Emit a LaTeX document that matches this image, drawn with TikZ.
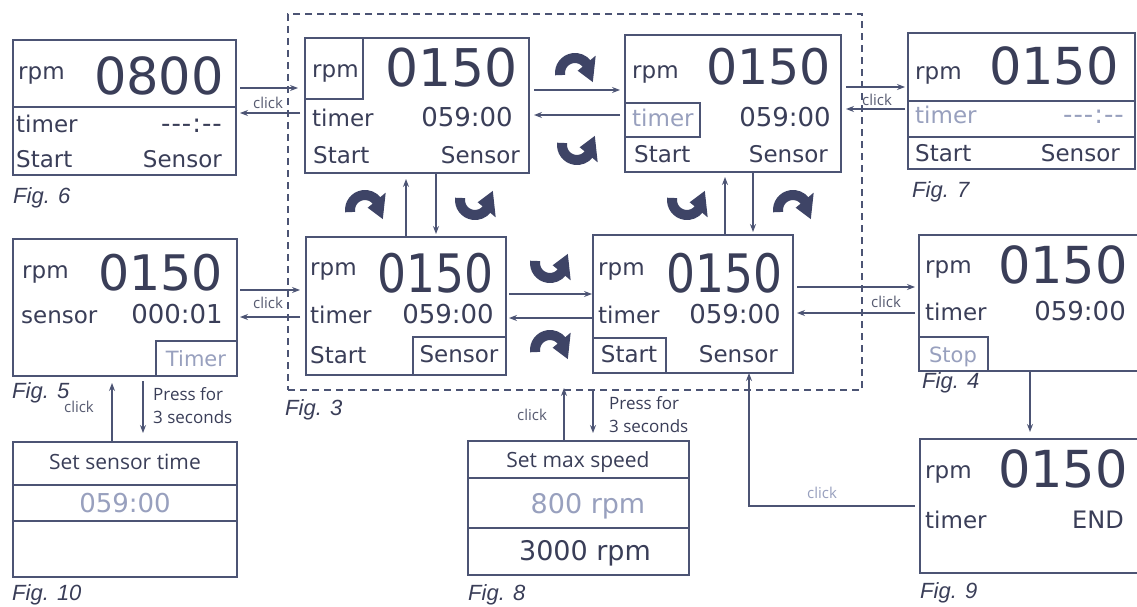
\documentclass[tikz,border=0pt]{standalone}
\usepackage{fontspec}
\setmainfont{DejaVu Sans}
\newfontfamily\capfont{Liberation Sans}
\newfontfamily\smallfont{Open Sans}
\usetikzlibrary{arrows.meta}
\definecolor{ink}{HTML}{3A3E58}
\definecolor{lineclr}{HTML}{4C5474}
\definecolor{lightclr}{HTML}{98A0BE}
\definecolor{iconclr}{HTML}{3E4466}
\newcommand{\dashes}{{-}\kern1pt{-}\kern1pt{-}\kern1pt:\kern1pt{-}\kern1pt{-}}
\begin{document}
\begin{tikzpicture}[x=1pt,y=-1pt,
  screen/.style={draw=lineclr, line width=1.4pt, rectangle, inner sep=0pt, outer sep=0pt, anchor=north west},
  sline/.style={draw=lineclr, line width=1.4pt},
  big/.style={font=\fontsize{#1}{#1}\selectfont, text=ink, inner sep=0pt, anchor=base east},
  big/.default=52,
  lbl/.style={font=\fontsize{23}{23}\selectfont, text=ink, inner sep=0pt, anchor=base west},
  lblr/.style={font=\fontsize{23}{23}\selectfont, text=ink, inner sep=0pt, anchor=base east},
  num/.style={font=\fontsize{26}{26}\selectfont, text=ink, inner sep=0pt, anchor=base east},
  ctr/.style={inner sep=0pt, anchor=base},
  lt/.style={text=lightclr},
  figcap/.style={font=\capfont\itshape\fontsize{22}{22}\selectfont, text=ink, inner sep=0pt, anchor=base west},
  note/.style={font=\smallfont\fontsize{15}{15}\selectfont, text=ink!85, inner sep=0pt},
  press/.style={font=\smallfont\fontsize{17}{23}\selectfont, text=ink, inner sep=0pt, anchor=base west, align=left},
  setf/.style={font=\smallfont\fontsize{21}{21}\selectfont, text=ink, inner sep=0pt, anchor=base},
  conn/.style={draw=lineclr, line width=1.1pt, -{Stealth[length=8pt,width=6pt]}},
  iconline/.style={draw=iconclr, line width=10pt},
  frame3/.style={draw=lineclr, line width=1.4pt, dash pattern=on 7pt off 5pt, rectangle, inner sep=0pt, outer sep=0pt, anchor=north west},
  archicon/.pic={
    \draw[iconline] (172:15) arc[start angle=172, end angle=322, radius=15];
    \fill[iconclr] (320:27) -- (320:3.5) -- (27:20) -- cycle;
  },
  cupicon/.pic={
    \draw[iconline] (188:15) arc[start angle=188, end angle=38, radius=15];
    \fill[iconclr] (40:27) -- (40:3.5) -- (-27:20) -- cycle;
  },
]
\useasboundingbox (0,0) rectangle (1137,607);
\fill[white] (0,0) rectangle (1137,607);

% dashed frame of Fig. 3
\node[frame3, minimum width=574pt, minimum height=376pt] (fr) at (288,14) {};

% ---------- Fig. 6
\node[screen, minimum width=223pt, minimum height=135pt] (f6) at (13,40) {};
\draw[sline] ([yshift=-67pt]f6.north west) -- ([yshift=-67pt]f6.north east);
\node[lbl] (f6a) at (18,80) {rpm};
\node[big=51] (f6b) at (224,95) {0800};
\node[lbl] (f6c) at (16,132) {timer};
\node[num] (f6d) at (222,132) {\dashes};
\node[lbl] (f6e) at (16,167) {Start};
\node[lblr] (f6f) at (222,167) {Sensor};
\node[figcap] (c6) at (13,203) {Fig. 6};

% ---------- Fig. 3 A (top left)
\node[screen, minimum width=224pt, minimum height=135pt] (A) at (305,38) {};
\node[screen, minimum width=58pt, minimum height=61pt] (Arpm) at (305,38) {};
\node[lbl] (Aa) at (312,78) {rpm};
\node[big=52] (Ab) at (518,87) {0150};
\node[lbl] (Ac) at (312,127) {timer};
\node[num] (Ad) at (513,127) {059:00};
\node[lbl] (Ae) at (313,163) {Start};
\node[lblr] (Af) at (520,163) {Sensor};

% ---------- Fig. 3 B (top right)
\node[screen, minimum width=216pt, minimum height=137pt] (B) at (625,35) {};
\node[screen, minimum width=75pt, minimum height=34pt] (Btim) at (625,103) {};
\node[lbl] (Ba) at (632,79) {rpm};
\node[big=49] (Bb) at (831,85) {0150};
\node[lbl, lt] (Bc) at (632,127) {timer};
\node[num] (Bd) at (831,127) {059:00};
\node[lbl] (Be) at (634,162) {Start};
\node[lblr] (Bf) at (828,162) {Sensor};

% ---------- Fig. 7
\node[screen, minimum width=227pt, minimum height=136pt] (f7) at (908,33) {};
\draw[sline] ([yshift=-68pt]f7.north west) -- ([yshift=-68pt]f7.north east);
\draw[sline] ([yshift=-104pt]f7.north west) -- ([yshift=-104pt]f7.north east);
\node[lbl] (f7a) at (915,80) {rpm};
\node[big=51] (f7b) at (1119,85) {0150};
\node[lbl, lt] (f7c) at (915,124) {timer};
\node[num, lt] (f7d) at (1124,124) {\dashes};
\node[lbl] (f7e) at (915,161) {Start};
\node[lblr] (f7f) at (1120,161) {Sensor};
\node[figcap] (c7) at (912,197) {Fig. 7};

% ---------- Fig. 5
\node[screen, minimum width=224pt, minimum height=137pt] (f5) at (13,239) {};
\node[screen, minimum width=81pt, minimum height=35pt] (f5tim) at (156,341) {};
\node[lbl] (f5a) at (22,278) {rpm};
\node[big=49] (f5b) at (223,290) {0150};
\node[lbl] (f5c) at (21,323) {sensor};
\node[num] (f5d) at (223,323) {000:01};
\node[lbl, lt, ctr, font=\fontsize{21}{21}\selectfont] (f5e) at (196,366) {Timer};
\node[figcap] (c5) at (12,398) {Fig. 5};

% ---------- Fig. 3 C (bottom left)
\node[screen, minimum width=200pt, minimum height=138pt] (C) at (306,237) {};
\node[screen, minimum width=93pt, minimum height=38pt] (Csen) at (413,337) {};
\node[lbl] (Ca) at (310,275) {rpm};
\node[big=53, xscale=0.86] (Cb) at (494,292) {0150};
\node[lbl] (Cc) at (310,323) {timer};
\node[num] (Cd) at (494,323) {059:00};
\node[lbl] (Ce) at (310,363) {Start};
\node[lbl, ctr] (Cf) at (459,362) {Sensor};
\node[figcap] (c3) at (285,415) {Fig. 3};

% ---------- Fig. 3 D (bottom right)
\node[screen, minimum width=200pt, minimum height=138pt] (D) at (593,235) {};
\node[screen, minimum width=73pt, minimum height=35pt] (Dst) at (593,338) {};
\node[lbl] (Da) at (598,275) {rpm};
\node[big=53, xscale=0.86] (Db) at (783,292) {0150};
\node[lbl] (Dc) at (598,323) {timer};
\node[num] (Dd) at (781,323) {059:00};
\node[lbl, ctr] (De) at (629,362) {Start};
\node[lblr] (Df) at (778,362) {Sensor};

% ---------- Fig. 4
\node[screen, minimum width=240pt, minimum height=136pt] (f4) at (919,235) {};
\node[screen, minimum width=69pt, minimum height=34pt] (f4st) at (919,337) {};
\node[lbl] (f4a) at (925,273) {rpm};
\node[big=51] (f4b) at (1128,283) {0150};
\node[lbl] (f4c) at (925,320) {timer};
\node[num] (f4d) at (1126,320) {059:00};
\node[lbl, lt, ctr, font=\fontsize{21}{21}\selectfont] (f4e) at (953,362) {Stop};
\node[figcap] (c4) at (922,388) {Fig. 4};

% ---------- Fig. 10
\node[screen, minimum width=224pt, minimum height=135pt] (f10) at (13,442) {};
\draw[sline] ([yshift=-43pt]f10.north west) -- ([yshift=-43pt]f10.north east);
\draw[sline] ([yshift=-79pt]f10.north west) -- ([yshift=-79pt]f10.north east);
\node[setf] (f10a) at (125,469) {Set sensor time};
\node[lbl, lt, ctr, font=\fontsize{26}{26}\selectfont] (f10b) at (125,512) {059:00};
\node[figcap] (c10) at (12,600) {Fig. 10};

% ---------- Fig. 8
\node[screen, minimum width=221pt, minimum height=134pt] (f8) at (468,441) {};
\draw[sline] ([yshift=-37pt]f8.north west) -- ([yshift=-37pt]f8.north east);
\draw[sline] ([yshift=-87pt]f8.north west) -- ([yshift=-87pt]f8.north east);
\node[setf] (f8a) at (578,467) {Set max speed};
\node[lbl, lt, ctr, font=\fontsize{27}{27}\selectfont] (f8b) at (588,513) {800 rpm};
\node[lbl, ctr, font=\fontsize{27}{27}\selectfont] (f8c) at (585,560) {3000 rpm};
\node[figcap] (c8) at (468,600) {Fig. 8};

% ---------- Fig. 9
\node[screen, minimum width=240pt, minimum height=134pt] (f9) at (920,439) {};
\node[lbl] (f9a) at (925,478) {rpm};
\node[big=51] (f9b) at (1128,487) {0150};
\node[lbl] (f9c) at (925,528) {timer};
\node[lblr, font=\fontsize{24}{24}\selectfont] (f9d) at (1124,528) {END};
\node[figcap] (c9) at (920,598) {Fig. 9};

% ---------- helper coordinates for connector rows/columns
\coordinate (h1) at (0,88);   \coordinate (h2) at (0,113);
\coordinate (h3) at (0,90);   \coordinate (h4) at (0,115);
\coordinate (h5) at (0,87);   \coordinate (h6) at (0,109);
\coordinate (h7) at (0,290);  \coordinate (h8) at (0,317);
\coordinate (h9) at (0,294);  \coordinate (h10) at (0,318);
\coordinate (h11) at (0,287); \coordinate (h12) at (0,313);
\coordinate (h13) at (0,506);
\coordinate (v1) at (406,0);  \coordinate (v2) at (436,0);
\coordinate (v3) at (725,0);  \coordinate (v4) at (753,0);
\coordinate (v5) at (112,0);  \coordinate (v6) at (143,0);
\coordinate (v7) at (564,0);  \coordinate (v8) at (593,0);
\coordinate (v9) at (1030,0); \coordinate (v10) at (749,0);

% ---------- connectors
\draw[conn, shorten <=4pt, shorten >=7pt] (f6.east |- h1) -- (A.west |- h1);
\draw[conn, shorten <=5pt, shorten >=4pt] (A.west |- h2) -- (f6.east |- h2);
\draw[conn, shorten <=5pt, shorten >=5pt] (A.east |- h3) -- (B.west |- h3);
\draw[conn, shorten <=5pt, shorten >=5pt] (B.west |- h4) -- (A.east |- h4);
\draw[conn, shorten <=5pt, shorten >=3pt] (B.east |- h5) -- (f7.west |- h5);
\draw[conn, shorten <=3pt, shorten >=5pt] (f7.west |- h6) -- (B.east |- h6);
\draw[conn, shorten <=3pt, shorten >=6pt] (f5.east |- h7) -- (C.west |- h7);
\draw[conn, shorten <=6pt, shorten >=3pt] (C.west |- h8) -- (f5.east |- h8);
\draw[conn, shorten <=3pt, shorten >=1pt] (C.east |- h9) -- (D.west |- h9);
\draw[conn, shorten <=1pt, shorten >=3pt] (D.west |- h10) -- (C.east |- h10);
\draw[conn, shorten <=4pt, shorten >=4pt] (D.east |- h11) -- (f4.west |- h11);
\draw[conn, shorten <=4pt, shorten >=4pt] (f4.west |- h12) -- (D.east |- h12);
\draw[conn, shorten >=6pt] (C.north -| v1) -- (A.south -| v1);
\draw[conn, shorten >=3pt] (A.south -| v2) -- (C.north -| v2);
\draw[conn, shorten >=5pt] (D.north -| v3) -- (B.south -| v3);
\draw[conn, shorten >=3pt] (B.south -| v4) -- (D.north -| v4);
\draw[conn, shorten >=7pt] (f10.north -| v5) -- (f5.south -| v5);
\draw[conn, shorten <=5pt, shorten >=9pt] (f5.south -| v6) -- (f10.north -| v6);
\draw[conn, shorten >=-2pt] (f8.north -| v7) -- (fr.south -| v7);
\draw[conn, shorten >=8pt] (fr.south -| v8) -- (f8.north -| v8);
\draw[conn, shorten >=7pt] (f4.south -| v9) -- (f9.north -| v9);
\draw[conn, shorten <=5pt] (f9.west |- h13) -| (D.south -| v10);

% ---------- connector labels
\node[note] (k1) at (268,103) {click};
\node[note] (k2) at (268,303) {click};
\node[note] (k3) at (877,100) {click};
\node[note] (k4) at (886,302) {click};
\node[note] (k5) at (79,407) {click};
\node[note] (k6) at (532,415) {click};
\node[note, text=lightclr] (k7) at (822,493) {click};
\node[press] (p1) at (153,423) {Press for\\3 seconds};
\node[press] (p2) at (609,432) {Press for\\3 seconds};

% ---------- rotation icons
\pic at (575,73)  {archicon};
\pic at (577,145) {cupicon};
\pic at (365,210) {archicon};
\pic at (475,200) {cupicon};
\pic at (687,200) {cupicon};
\pic at (793,210) {archicon};
\pic at (550,263) {cupicon};
\pic at (550,350) {archicon};
\end{tikzpicture}
\end{document}
